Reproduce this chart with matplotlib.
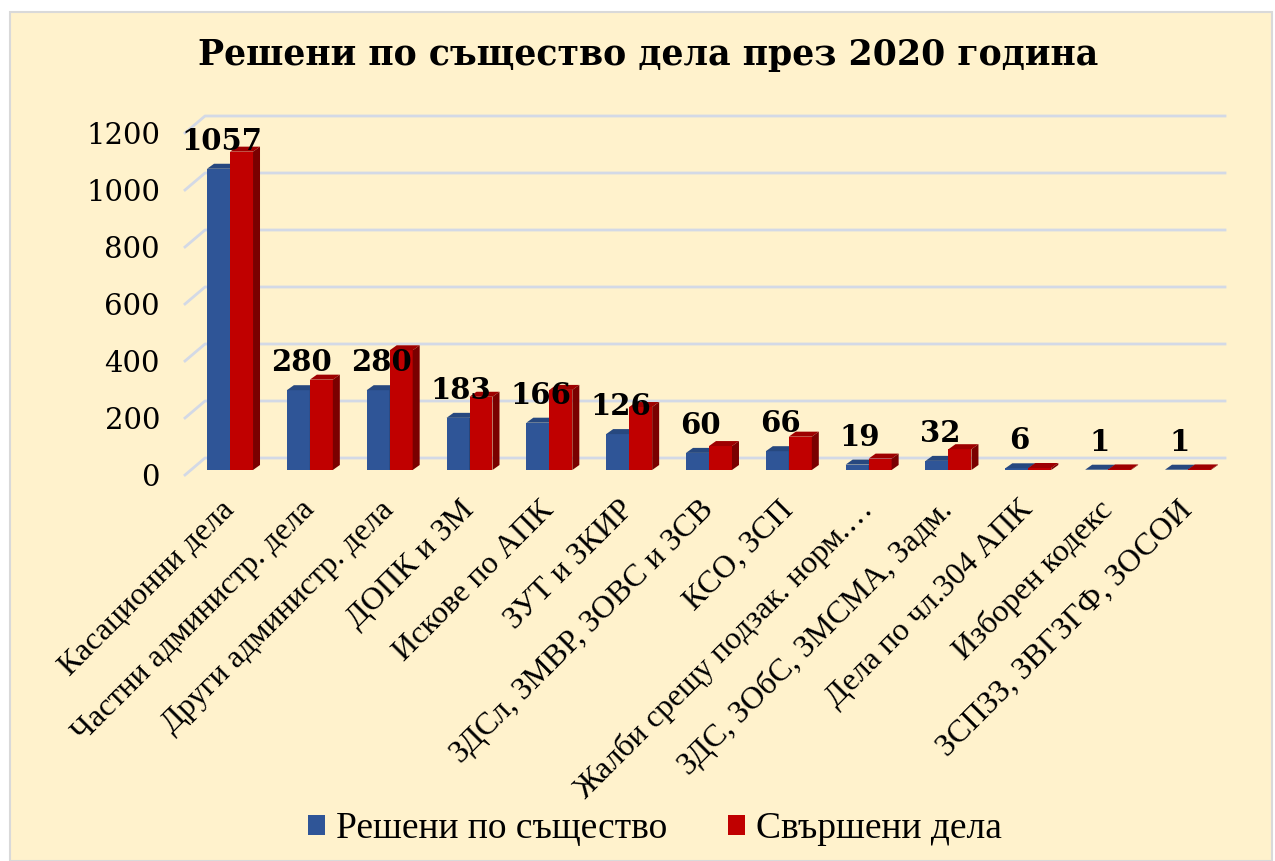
import matplotlib
matplotlib.use("Agg")
import matplotlib.pyplot as plt
import numpy as np
from matplotlib.patches import Polygon, Rectangle, Patch
from matplotlib.lines import Line2D

# Data
categories = ["Касационни дела", "Частни администр. дела", "Други администр. дела",
              "ДОПК и ЗМ", "Искове по АПК", "ЗУТ и ЗКИР", "ЗДСл, ЗМВР, ЗОВС и ЗСВ",
              "КСО, ЗСП", "Жалби срещу подзак. норм.…", "ЗДС, ЗОбС, ЗМСМА, Задм.",
              "Дела по чл.304 АПК", "Изборен кодекс", "ЗСПЗЗ, ЗВГЗГФ, ЗОСОИ"]
resheni = [1057, 280, 280, 183, 166, 126, 60, 66, 19, 32, 6, 1, 1]
svarsheni = [1117, 317, 420, 257, 281, 221, 84, 117, 40, 73, 7, 2, 2]
yticks = [0, 200, 400, 600, 800, 1000, 1200]
series_names = ["Решени по същество", "Свършени дела"]

BG = "#FFF2CC"
GRID = "#D3D9E6"
BLUE = ("#2F5597", "#27487F", "#1E3764")   # front, top, side
RED = ("#C00000", "#9E0000", "#7A0000")

W, H = 1275, 861
fig = plt.figure(figsize=(W / 100, H / 100), dpi=100)
fig.patch.set_facecolor("white")
fig.patches.append(Rectangle((10 / W, 0), (W - 13) / W, (H - 12) / H, transform=fig.transFigure,
                             facecolor=BG, edgecolor="#D9D9D9", lw=1.5, zorder=-10))

ax = fig.add_axes([185 / W, (H - 475) / H, 1040 / W, 342 / H])
ax.set_facecolor("none")
ax.set_xlim(-0.564, 12.464)
ax.set_ylim(0, 1200)
for s in ax.spines.values():
    s.set_visible(False)

x = np.arange(len(categories))
bw = 0.288
DX, DY = 7, 5      # bar depth in pixels
BASE = 5           # bars sit a little behind the front edge

fig.canvas.draw()
tr = ax.transData


def bar3d(x0, x1, h, cols, z):
    (ax0, ay0), (ax1, ay1) = tr.transform([(x0, 0), (x1, h)])
    ay0 += BASE
    ay1 += BASE
    front = [(ax0, ay0), (ax1, ay0), (ax1, ay1), (ax0, ay1)]
    top = [(ax0, ay1), (ax1, ay1), (ax1 + DX, ay1 + DY), (ax0 + DX, ay1 + DY)]
    side = [(ax1, ay0), (ax1 + DX, ay0 + DY), (ax1 + DX, ay1 + DY), (ax1, ay1)]
    for pts, c in ((front, cols[0]), (top, cols[1]), (side, cols[2])):
        ax.add_patch(Polygon(pts, closed=True, transform=None, facecolor=c,
                             edgecolor="none", zorder=z, clip_on=False))


# back wall gridlines with the slanted floor part on the left
right_px = tr.transform((12.464, 0))[0]
for v in yticks:
    px, py = tr.transform((-0.564, v))
    ax.add_line(Line2D([px, px + 20, right_px], [py, py + 17, py + 17], transform=None,
                       color=GRID, lw=2, zorder=1, clip_on=False))

for i in x:
    bar3d(i - bw, i, resheni[i], BLUE, 3)
    bar3d(i, i + bw, svarsheni[i], RED, 4)
    bx, by = tr.transform((i - bw / 2, resheni[i]))
    ax.text(bx + 3, by + BASE + 19, str(resheni[i]), transform=None, ha="center",
            va="baseline", fontsize=21, fontweight="bold", family="DejaVu Serif",
            color="black", zorder=6)

ax.set_yticks(yticks)
ax.set_yticklabels([str(v) for v in yticks], family="DejaVu Serif", fontsize=21)
ax.tick_params(axis="y", length=0, pad=18)
ax.set_xticks(x)
ax.set_xticklabels(categories, rotation=45, ha="right", va="center", rotation_mode="anchor",
                   family="Liberation Serif", fontsize=23)
ax.tick_params(axis="x", length=0, pad=22)

fig.text(648 / W, 1 - 55 / H, "Решени по същество дела през 2020 година", ha="center",
         va="center", fontsize=25, fontweight="bold", family="DejaVu Serif")

handles = [Patch(facecolor=BLUE[0]), Patch(facecolor=RED[0])]
fig.legend(handles, series_names, loc="center", bbox_to_anchor=(655 / W, 1 - 829 / H),
           ncol=2, frameon=False, prop={"family": "Liberation Serif", "size": 27},
           handlelength=0.45, handleheight=0.45, handletextpad=0.3, columnspacing=1.6)

fig.savefig("out.png", dpi=100, facecolor="white")
